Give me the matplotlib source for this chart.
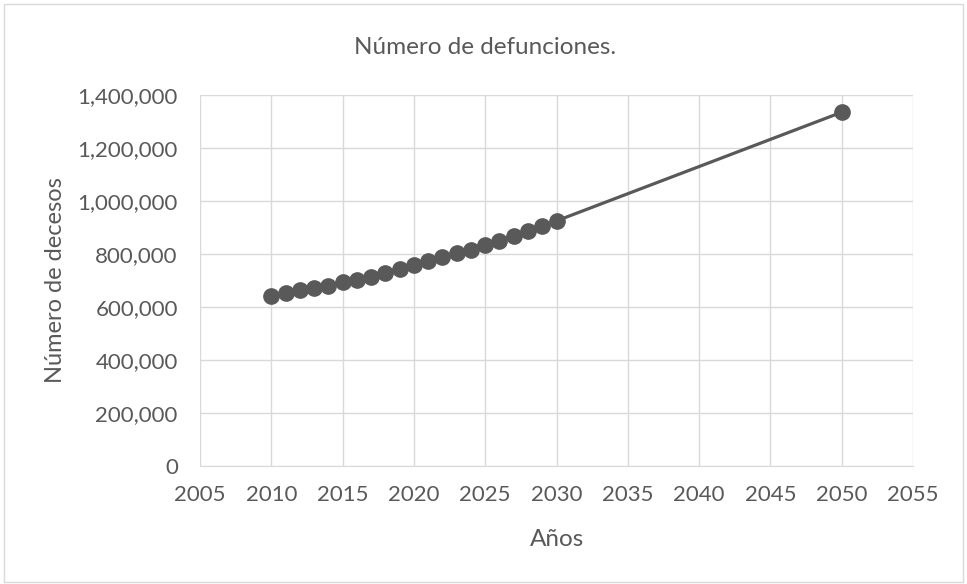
import matplotlib.pyplot as plt
import matplotlib.ticker as tkr

# años y defunciones
years = [2010, 2011, 2012, 2013, 2014, 2015, 2016, 2017, 2018, 2019, 2020,
         2021, 2022, 2023, 2024, 2025, 2026, 2027, 2028, 2029, 2030, 2050]
deaths = [640000, 652500, 665000, 673000, 681000, 692500, 703000, 712500,
          727500, 744000, 760000, 775000, 787500, 802500, 816000, 835000,
          850000, 869000, 885000, 906000, 925000, 1335000]

plt.rcParams['font.family'] = ['Lato', 'DejaVu Sans']
grey = '#595959'

fig = plt.figure(figsize=(9.67, 5.84), dpi=100)
ax = fig.add_axes([200/967, 1 - 466/584, 713/967, 371/584])

ax.plot(years, deaths, color=grey, lw=2.3, marker='o', markersize=11, zorder=3)

ax.set_xlim(2005, 2055)
ax.set_ylim(0, 1400000)
ax.set_xticks(range(2005, 2056, 5))
ax.set_yticks(range(0, 1400001, 200000))
ax.yaxis.set_major_formatter(tkr.FuncFormatter(lambda v, p: '{:,.0f}'.format(v)))

ax.grid(True, color='#d9d9d9', lw=1)
ax.set_axisbelow(True)
for s in ['left', 'top', 'right']:
    ax.spines[s].set_visible(False)
ax.spines['bottom'].set_color('#d9d9d9')
ax.tick_params(length=0, labelsize=16, labelcolor=grey)
ax.tick_params(axis='y', pad=16)
ax.tick_params(axis='x', pad=14)

fig.text(485/967, 1 - 48/584, 'Número de defunciones.', ha='center', va='center',
         fontsize=17.5, color=grey)
fig.text(557/967, 1 - 539/584, 'Años', ha='center', va='center', fontsize=17.5, color=grey)
fig.text(56/967, 1 - 280/584, 'Número de decesos', ha='center', va='center',
         rotation=90, fontsize=17, color=grey)

# borde del grafico
fig.patches.append(plt.Rectangle((4/967, 2/584), 959/967, 578/584, transform=fig.transFigure,
                                 fill=False, edgecolor='#d9d9d9', lw=1))

plt.savefig('out.png', dpi=100)
